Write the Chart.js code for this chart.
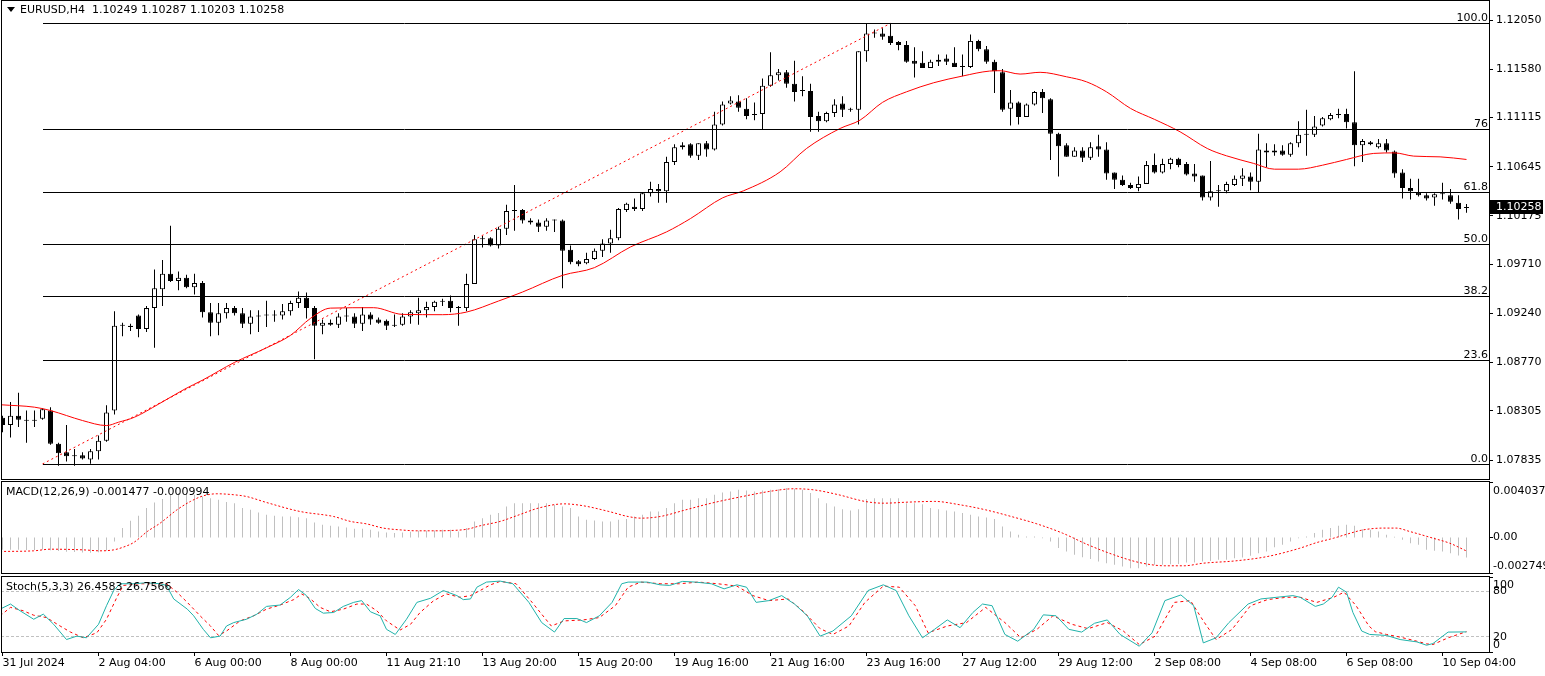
<!DOCTYPE html>
<html><head><meta charset="utf-8">
<script src="https://cdn.jsdelivr.net/npm/chart.js@4.4.1/dist/chart.umd.min.js"></script>
<style>
html,body{margin:0;padding:0;background:#fff;}
#wrap{position:relative;width:1545px;height:676px;overflow:hidden;background:#fff;}
canvas{position:absolute;left:0;}
</style></head><body>
<div id="wrap">
<canvas id="cMain" width="1545" height="480" style="top:0px"></canvas>
<canvas id="cMacd" width="1545" height="96" style="top:480px"></canvas>
<canvas id="cStoch" width="1545" height="100" style="top:576px"></canvas>
</div>
<script>
// ---------------- DATA ----------------
const symbol = 'EURUSD';
const timeframe = 'H4';
const open = [
1.0824,1.0817,1.0826,1.0822,1.0821,1.0823,1.0831,1.0799,1.0791,1.0787,
1.0788,1.0784,1.0792,1.0802,1.0831,1.0912,1.0912,1.0922,1.0909,1.0929,
1.0947,1.0962,1.0955,1.0958,1.0949,1.0953,1.0925,1.0915,1.0924,1.0929,
1.0924,1.0914,1.0921,1.0922,1.0923,1.0922,1.0926,1.0934,1.0939,1.0929,
1.0912,1.0915,1.0913,1.0921,1.0921,1.0914,1.0923,1.0918,1.0917,1.0912,
1.0913,1.0921,1.0924,1.0927,1.0930,1.0935,1.0936,1.0929,1.0929,1.0952,
1.0995,1.0996,1.0989,1.1005,1.1022,1.1023,1.1013,1.1011,1.1007,1.1013,
1.1013,1.0985,1.0974,1.0972,1.0976,1.0984,1.0991,1.0996,1.1023,1.1026,
1.1024,1.1039,1.1043,1.1041,1.1069,1.1083,1.1086,1.1075,1.1087,1.1081,
1.1105,1.1125,1.1127,1.1120,1.1114,1.1115,1.1142,1.1152,1.1155,1.1144,
1.1137,1.1137,1.1113,1.1108,1.1116,1.1125,1.1120,1.1119,1.1175,1.1192,
1.1192,1.1190,1.1184,1.1181,1.1166,1.1164,1.1159,1.1165,1.1168,1.1164,
1.1160,1.1160,1.1185,1.1177,1.1165,1.1155,1.1120,1.1126,1.1112,1.1124,
1.1136,1.1129,1.1096,1.1085,1.1074,1.1080,1.1073,1.1084,1.1081,1.1059,
1.1052,1.1047,1.1044,1.1048,1.1066,1.1059,1.1067,1.1072,1.1067,1.1058,
1.1056,1.1035,1.1041,1.1041,1.1047,1.1053,1.1055,1.1050,1.1080,1.1078,
1.1080,1.1076,1.1087,1.1095,1.1095,1.1104,1.1110,1.1115,1.1115,1.1107,
1.1085,1.1088,1.1083,1.1087,1.1079,1.1059,1.1044,1.1040,1.1037,1.1035,
1.1038,1.1037,1.1030,1.10249];
const high = [
1.0826,1.0839,1.0848,1.0831,1.0831,1.0833,1.0834,1.0800,1.0817,1.0794,
1.0791,1.0794,1.0807,1.0836,1.0926,1.0915,1.0914,1.0923,1.0931,1.0966,
1.0975,1.1008,1.0964,1.0961,1.0962,1.0955,1.0934,1.0934,1.0934,1.0931,
1.0929,1.0927,1.0927,1.0936,1.0927,1.0933,1.0936,1.0945,1.0944,1.0931,
1.0918,1.0918,1.0924,1.0929,1.0924,1.0930,1.0925,1.0920,1.0918,1.0923,
1.0924,1.0927,1.0939,1.0935,1.0936,1.0938,1.0941,1.0931,1.0962,1.0999,
1.0998,1.0997,1.1007,1.1028,1.1047,1.1024,1.1015,1.1014,1.1015,1.1014,
1.1014,1.0989,1.0975,1.0982,1.0986,1.0995,1.1004,1.1025,1.1030,1.1034,
1.1040,1.1050,1.1048,1.1074,1.1086,1.1088,1.1087,1.1087,1.1089,1.1117,
1.1127,1.1132,1.1133,1.1130,1.1126,1.1149,1.1174,1.1158,1.1157,1.1166,
1.1151,1.1144,1.1117,1.1117,1.1129,1.1132,1.1121,1.1175,1.1202,1.1196,
1.1197,1.1202,1.1185,1.1185,1.1179,1.1175,1.1167,1.1172,1.1172,1.1179,
1.1172,1.1191,1.1186,1.1180,1.1167,1.1158,1.1138,1.1127,1.1125,1.1137,
1.1139,1.1130,1.1097,1.1087,1.1083,1.1083,1.1088,1.1095,1.1088,1.1059,
1.1056,1.1049,1.1055,1.1070,1.1077,1.1072,1.1073,1.1073,1.1069,1.1067,
1.1056,1.1070,1.1047,1.1050,1.1056,1.1063,1.1059,1.1096,1.1087,1.1086,
1.1085,1.1088,1.1108,1.1119,1.1113,1.1112,1.1116,1.1120,1.1120,1.1156,
1.1091,1.1089,1.1091,1.1091,1.1080,1.1062,1.1053,1.1053,1.1039,1.1039,
1.1049,1.1043,1.1037,1.10287];
const low = [
1.0810,1.0805,1.0815,1.0800,1.0815,1.0822,1.0798,1.0778,1.0782,1.0778,
1.0784,1.0780,1.0784,1.0801,1.0827,1.0902,1.0907,1.0901,1.0906,1.0891,
1.0931,1.0954,1.0946,1.0948,1.0942,1.0920,1.0902,1.0903,1.0919,1.0922,
1.0910,1.0904,1.0906,1.0911,1.0916,1.0918,1.0922,1.0929,1.0919,1.0880,
1.0904,1.0912,1.0910,1.0916,1.0910,1.0907,1.0913,1.0914,1.0908,1.0911,
1.0912,1.0914,1.0913,1.0920,1.0926,1.0931,1.0925,1.0912,1.0926,1.0952,
1.0987,1.0988,1.0986,1.0999,1.1003,1.1010,1.1009,1.1002,1.1003,1.1002,
1.0948,1.0971,1.0969,1.0971,1.0975,1.0978,1.0982,1.0994,1.1021,1.1022,
1.1022,1.1036,1.1030,1.1030,1.1066,1.1081,1.1073,1.1071,1.1074,1.1080,
1.1104,1.1124,1.1117,1.1110,1.1109,1.1100,1.1141,1.1147,1.1140,1.1127,
1.1132,1.1098,1.1098,1.1107,1.1112,1.1112,1.1117,1.1105,1.1165,1.1188,
1.1186,1.1181,1.1176,1.1164,1.1150,1.1159,1.1159,1.1161,1.1162,1.1160,
1.1151,1.1159,1.1175,1.1163,1.1135,1.1117,1.1104,1.1105,1.1112,1.1123,
1.1116,1.1071,1.1055,1.1074,1.1074,1.1069,1.1071,1.1074,1.1052,1.1043,
1.1046,1.1043,1.1041,1.1048,1.1058,1.1058,1.1062,1.1064,1.1056,1.1050,
1.1032,1.1032,1.1026,1.1039,1.1046,1.1046,1.1042,1.1040,1.1064,1.1075,
1.1075,1.1074,1.1083,1.1075,1.1093,1.1103,1.1109,1.1111,1.1101,1.1065,
1.1069,1.1085,1.1082,1.1078,1.1054,1.1034,1.1033,1.1036,1.1032,1.1027,
1.1033,1.1029,1.1014,1.10203];
const close = [
1.0817,1.0826,1.0822,1.0821,1.0822,1.0832,1.0799,1.0790,1.0787,1.0787,
1.0785,1.0792,1.0802,1.0829,1.0912,1.0912,1.0911,1.0909,1.0929,1.0948,
1.0962,1.0955,1.0958,1.0949,1.0953,1.0925,1.0915,1.0924,1.0929,1.0924,
1.0914,1.0921,1.0922,1.0923,1.0922,1.0926,1.0934,1.0939,1.0929,1.0912,
1.0915,1.0913,1.0921,1.0921,1.0914,1.0923,1.0918,1.0915,1.0912,1.0912,
1.0921,1.0925,1.0927,1.0930,1.0935,1.0936,1.0929,1.0929,1.0952,1.0995,
1.0995,1.0989,1.1005,1.1022,1.1023,1.1013,1.1011,1.1007,1.1013,1.1013,
1.0984,1.0973,1.0971,1.0976,1.0984,1.0991,1.0996,1.1024,1.1029,1.1024,
1.1039,1.1043,1.1041,1.1069,1.1083,1.1085,1.1075,1.1087,1.1081,1.1105,
1.1124,1.1128,1.1121,1.1113,1.1115,1.1142,1.1152,1.1155,1.1144,1.1136,
1.1137,1.1112,1.1108,1.1116,1.1124,1.1119,1.1119,1.1175,1.1192,1.1192,
1.1189,1.1183,1.1181,1.1165,1.1163,1.1159,1.1165,1.1167,1.1165,1.1160,
1.1160,1.1185,1.1177,1.1165,1.1156,1.1119,1.1126,1.1112,1.1124,1.1136,
1.1130,1.1096,1.1084,1.1074,1.1080,1.1073,1.1083,1.1081,1.1058,1.1052,
1.1047,1.1044,1.1048,1.1066,1.1059,1.1067,1.1072,1.1066,1.1057,1.1055,
1.1035,1.1041,1.1041,1.1048,1.1053,1.1056,1.1050,1.1081,1.1078,1.1080,
1.1076,1.1087,1.1095,1.1096,1.1103,1.1111,1.1114,1.1114,1.1107,1.1085,
1.1089,1.1086,1.1087,1.1080,1.1058,1.1044,1.1041,1.1037,1.1034,1.1038,
1.1038,1.1031,1.1024,1.10258];

// moving average (red): candle position / price
const maIdx = [-0.2,4,6,8,10,13,14.5,16.5,19.5,22.8,25,29,33,36,38.5,41,46.4,50,55,58,62,65,70,74,78.5,83,86,90,92.6,97.2,100.5,104.7,107.2,110,113,116.4,120,123.4,124.7,127.2,129.7,133,135.5,138,141,144,147.2,150.6,153,156.4,159,162,165,168,171.4,174,176.4,179.7,183];
const maVal = [1.08364,1.08341,1.08309,1.08261,1.08213,1.08165,1.08197,1.08245,1.08370,1.08515,1.08600,1.08770,1.08910,1.09029,1.09192,1.09290,1.09294,1.09230,1.09227,1.09252,1.09358,1.09444,1.09604,1.09678,1.09876,1.10020,1.10148,1.10346,1.10413,1.10595,1.10819,1.11011,1.11091,1.11261,1.11362,1.11449,1.11513,1.11561,1.11564,1.11532,1.11549,1.11506,1.11458,1.11362,1.11203,1.11098,1.10979,1.10819,1.10749,1.10676,1.10621,1.10621,1.10659,1.10714,1.10772,1.10777,1.10746,1.10739,1.10714];

// Fibonacci retracement
const fibLow = 1.07797, fibHigh = 1.12018;
const fibStartIdx = 5, fibEndIdx = 111;
const fibLevels = [0, 23.6, 38.2, 50, 61.8, 76, 100];
const fibLabels = ['0.0', '23.6', '38.2', '50.0', '61.8', '76', '100.0'];

// price axis tick labels
const yTicks = [1.12050, 1.11580, 1.11115, 1.10645, 1.10175, 1.09710, 1.09240, 1.08770, 1.08305, 1.07835];

// time axis labels
const xLabelIdx = [0,12,24,36,48,60,72,84,96,108,120,132,144,156,168,180];
const xLabels = ['31 Jul 2024','2 Aug 04:00','6 Aug 00:00','8 Aug 00:00','11 Aug 21:10','13 Aug 20:00','15 Aug 20:00','19 Aug 16:00','21 Aug 16:00','23 Aug 16:00','27 Aug 12:00','29 Aug 12:00','2 Sep 08:00','4 Sep 08:00','6 Sep 08:00','10 Sep 04:00'];

// MACD(12,26,9) main (histogram), one per candle
const macdMain = [
-0.00090,-0.00090,-0.00091,-0.00092,-0.00092,-0.00088,-0.00094,-0.00100,-0.00105,-0.00107,
-0.00110,-0.00113,-0.00108,-0.00095,-0.00030,0.00069,0.00123,0.00159,0.00216,0.00257,
0.00282,0.00314,0.00326,0.00326,0.00314,0.00301,0.00289,0.00277,0.00260,0.00252,
0.00216,0.00203,0.00184,0.00167,0.00159,0.00154,0.00154,0.00149,0.00142,0.00110,
0.00093,0.00086,0.00081,0.00074,0.00064,0.00064,0.00056,0.00044,0.00037,0.00032,
0.00037,0.00042,0.00049,0.00049,0.00051,0.00056,0.00056,0.00044,0.00069,0.00118,
0.00142,0.00167,0.00179,0.00228,0.00252,0.00252,0.00252,0.00252,0.00252,0.00240,
0.00228,0.00216,0.00154,0.00130,0.00125,0.00118,0.00118,0.00130,0.00135,0.00154,
0.00167,0.00191,0.00191,0.00216,0.00252,0.00277,0.00277,0.00289,0.00289,0.00314,
0.00331,0.00338,0.00350,0.00345,0.00338,0.00345,0.00350,0.00355,0.00363,0.00358,
0.00350,0.00326,0.00289,0.00252,0.00228,0.00208,0.00198,0.00208,0.00282,0.00289,
0.00289,0.00289,0.00289,0.00252,0.00252,0.00245,0.00216,0.00208,0.00198,0.00191,
0.00179,0.00167,0.00154,0.00147,0.00135,0.00081,0.00044,0.00020,0.00007,0.00007,
-0.00005,-0.00029,-0.00078,-0.00103,-0.00127,-0.00145,-0.00159,-0.00176,-0.00189,-0.00201,
-0.00213,-0.00226,-0.00226,-0.00213,-0.00201,-0.00201,-0.00196,-0.00194,-0.00184,-0.00184,
-0.00176,-0.00172,-0.00164,-0.00164,-0.00152,-0.00147,-0.00135,-0.00115,-0.00103,-0.00071,
-0.00054,-0.00029,-0.00005,0.00007,0.00032,0.00056,0.00069,0.00086,0.00093,0.00086,
0.00061,0.00056,0.00044,0.00020,0.00005,-0.00017,-0.00042,-0.00054,-0.00091,-0.00098,
-0.00103,-0.00115,-0.00132,-0.001477];
// MACD signal
const macdSigIdx = [-0.3,3.9,6.0,10.1,12.2,13.9,15.1,16.4,18.1,19.7,21.8,23.5,25.1,26.8,28.9,30.5,33.0,37.2,41.4,43.5,45.5,47.6,49.7,51.8,53.9,56.0,58.1,59.7,62.2,64.6,67.0,70.2,72.6,75.8,78.2,79.8,82.2,85.4,88.6,92.5,96.6,98.9,101.4,104.5,107.8,110.1,113.3,116.5,119.7,122.9,126.1,129.3,132.5,135.7,138.9,142.1,145.3,147.7,150.1,154.1,158.1,162.1,164.3,166.4,168.5,170.1,172.6,174.2,175.9,178.8,180.9,183];
const macdSigVal = [-0.00103,-0.00098,-0.00086,-0.00091,-0.00098,-0.00091,-0.00071,-0.00037,0.00044,0.00105,0.00203,0.00265,0.00306,0.00321,0.00314,0.00301,0.00257,0.00191,0.00154,0.00118,0.00100,0.00069,0.00056,0.00049,0.00049,0.00051,0.00061,0.00086,0.00118,0.00167,0.00216,0.00247,0.00233,0.00191,0.00154,0.00142,0.00154,0.00203,0.00252,0.00301,0.00345,0.00358,0.00350,0.00314,0.00265,0.00252,0.00260,0.00265,0.00240,0.00203,0.00154,0.00100,0.00032,-0.00054,-0.00127,-0.00184,-0.00208,-0.00208,-0.00189,-0.00172,-0.00140,-0.00080,-0.00037,-0.00005,0.00032,0.00056,0.00069,0.00069,0.00044,-0.00005,-0.00042,-0.000994];
const macdScaleVals = ['max', 0, 'min'];
const macdScaleLabels = ['0.004037', '0.00', '-0.002749'];

// Stochastic(5,3,3)
const stochKIdx = [-0.3,1.0,2.2,3.9,5.1,6.4,8.0,9.3,10.5,12.0,13.0,13.9,14.7,16.4,18.0,19.7,20.5,21.4,23.1,23.9,25.1,26.0,27.2,28.0,28.9,30.5,31.8,33.0,34.7,36.0,37.0,38.0,39.1,40.1,41.4,42.6,43.9,44.9,46.0,47.2,48.0,49.1,50.5,51.8,53.5,55.1,56.8,57.6,58.5,59.3,60.5,62.2,
63.8,65.8,67.4,69.0,70.2,71.8,73.0,74.6,76.2,77.4,78.2,80.6,82.2,83.4,85.0,86.6,88.6,90.2,91.8,93.0,94.2,95.8,97.4,99.0,100.6,102.2,103.8,106.1,108.2,110.1,111.7,113.3,115.0,116.5,118.1,119.7,121.3,122.5,123.7,125.3,126.9,128.9,130.1,131.7,133.3,134.9,136.5,138.1,139.7,142.1,143.7,145.3,147.3,148.9,150.1,151.7,153.3,155.7,157.3,159.3,161.3,
162.2,164.1,165.1,166.2,167.0,168.0,168.8,169.9,170.9,173.0,174.7,176.8,178.0,178.8,180.7,183];
const stochKVal = [56.4,63.1,54.2,43.1,49.8,36.4,16.4,20.9,18.7,36.4,60.9,80.9,89.8,89.8,91.1,89.8,87.6,69.8,56.4,47.6,29.8,18.7,20.9,34.2,38.7,43.1,49.8,60.0,61.8,72.0,82.2,74.2,57.3,51.1,52.0,60.0,65.3,67.6,52.9,47.6,29.8,23.1,43.1,65.3,70.7,80.9,74.2,68.9,69.8,85.3,92.0,93.3,
89.8,65.3,38.7,26.2,44.0,44.0,38.7,47.6,65.3,89.8,92.0,92.0,88.4,87.6,92.9,92.0,89.8,83.1,88.4,85.3,65.3,67.6,74.2,63.1,47.6,20.9,27.6,47.6,80.9,88.4,80.9,47.6,18.7,29.8,42.2,32.0,52.0,63.1,60.9,23.1,14.2,29.8,48.9,47.6,29.8,26.2,37.8,42.2,23.1,7.6,25.3,67.6,75.1,60.9,12.0,18.7,38.7,63.1,69.8,72.0,74.2,
72.0,60.0,63.1,72.0,85.3,78.7,52.0,27.6,23.1,21.8,16.4,13.3,8.9,11.1,26.2,26.4583];
const stochDIdx = [-0.3,1.0,2.6,3.9,5.5,7.2,8.5,10.1,11.8,13.0,14.3,15.1,17.2,19.3,20.5,21.8,23.1,24.7,26.0,27.0,28.0,29.7,31.4,33.0,34.7,36.4,37.4,38.5,39.7,41.0,42.6,44.3,45.5,46.8,48.0,49.7,51.0,52.2,53.9,55.5,57.2,58.5,59.7,61.0,62.2,
64.2,66.2,68.6,70.2,72.6,74.6,76.6,78.2,79.8,82.2,84.6,87.0,89.4,91.8,93.8,95.8,98.2,99.8,102.2,103.8,105.8,107.8,110.1,112.1,114.1,115.7,118.1,120.5,122.9,125.3,127.3,129.3,131.3,133.7,135.7,138.1,140.1,142.1,144.1,146.5,148.5,150.1,151.7,153.7,156.0,158.1,160.5,
162.2,164.3,166.4,167.7,169.2,170.8,171.6,173.0,174.7,176.8,178.0,178.8,180.7,183];
const stochDVal = [47.6,58.7,54.2,48.4,45.3,34.2,26.2,18.7,25.3,43.1,72.0,87.6,89.8,89.8,89.8,78.7,65.3,47.6,34.2,21.8,27.6,40.9,47.6,56.4,61.8,68.9,76.4,69.8,58.7,52.9,56.4,63.1,63.1,54.2,40.9,28.9,36.4,52.0,67.6,76.4,72.0,74.2,80.9,88.4,92.9,
89.8,65.3,34.2,40.9,42.2,45.3,60.9,85.3,92.0,89.8,89.8,92.0,89.8,86.7,74.2,67.6,69.8,56.4,30.7,23.1,34.2,65.3,86.7,85.3,60.9,25.3,34.2,38.7,58.7,38.7,18.7,29.8,47.6,36.4,30.7,38.7,27.6,9.8,20.9,65.3,67.6,40.9,16.4,29.8,60.9,68.9,72.0,
72.0,65.3,72.0,78.7,60.9,34.2,26.7,23.1,19.6,14.2,10.7,9.8,18.7,26.7566];
const stochLevels = [20, 80];
const stochScaleVals = [100, 80, 20, 0];
const stochScaleLabels = ['100', '80', '20', '0'];

// ---------------- STYLE / LAYOUT ----------------
const FAM = 'DejaVu Sans';
const FONT = '11px "DejaVu Sans"';
Chart.defaults.font.family = FAM;
Chart.defaults.font.size = 11;
const xMin = -0.1875, xMax = 185.8125;           // 8 px per candle
const mainYMin = 1.07653, mainYMax = 1.122416;
const macdYMin = -0.00261, macdYMax = 0.00415;
const last = close.length - 1;
const AXIS_W = 56;

function xScale(display) {
  return {type: 'linear', min: xMin, max: xMax, offset: false, display: display,
          grid: {offset: false}};
}
function frame(ctx, ca) {
  ctx.strokeStyle = '#000'; ctx.lineWidth = 1;
  ctx.strokeRect(ca.left + 0.5, ca.top + 0.5, ca.right - ca.left, ca.bottom - ca.top);
}
function text(ctx, s, x, y, align) {
  ctx.font = FONT; ctx.fillStyle = '#000';
  ctx.textAlign = align || 'left'; ctx.textBaseline = 'middle';
  ctx.fillText(s, x, y);
}

// ---------------- MAIN CHART ----------------
const bodyData = open.map((o, i) => ({x: i, y: [o, close[i]]}));
const wickData = open.map((o, i) => ({x: i, y: [low[i], high[i]]}));
const bodyFill = open.map((o, i) => close[i] >= o ? '#ffffff' : '#000000');

const mainPlugin = {
  id: 'mainDeco',
  afterDatasetsDraw(chart) {
    const {ctx, chartArea: ca, scales: {x, y}} = chart;
    ctx.save();
    const x0 = Math.round(x.getPixelForValue(fibStartIdx));
    fibLevels.forEach((lv, k) => {
      const price = fibLow + (fibHigh - fibLow) * lv / 100;
      const py = Math.round(y.getPixelForValue(price)) + 0.5;
      ctx.strokeStyle = '#000'; ctx.lineWidth = 1;
      ctx.beginPath(); ctx.moveTo(x0, py); ctx.lineTo(ca.right, py); ctx.stroke();
      ctx.font = FONT; ctx.fillStyle = '#000'; ctx.textAlign = 'right'; ctx.textBaseline = 'alphabetic';
      ctx.fillText(fibLabels[k], ca.right - 1, py - 2.5);
    });
    ctx.restore();
  },
  afterDraw(chart) {
    const {ctx, chartArea: ca, scales: {y}} = chart;
    ctx.save();
    frame(ctx, ca);
    // header
    ctx.fillStyle = '#000';
    ctx.beginPath(); ctx.moveTo(7, 7); ctx.lineTo(15, 7); ctx.lineTo(11, 12); ctx.closePath(); ctx.fill();
    text(ctx, symbol + ',' + timeframe + '  ' + [open[last], high[last], low[last], close[last]].map(v => v.toFixed(5)).join(' '), 20, 10);
    // current price box
    const cy = Math.round(y.getPixelForValue(close[last]));
    ctx.fillStyle = '#000';
    ctx.fillRect(ca.right + 1, cy - 7, 53, 14);
    ctx.font = FONT; ctx.fillStyle = '#fff'; ctx.textAlign = 'left'; ctx.textBaseline = 'middle';
    ctx.fillText(close[last].toFixed(5), ca.right + 7, cy + 0.5);
    ctx.restore();
  }
};

new Chart(document.getElementById('cMain'), {
  type: 'bar',
  data: {datasets: [
    {type: 'line', data: maIdx.map((v, k) => ({x: v, y: maVal[k]})), borderColor: '#ff0000', borderWidth: 1,
     pointRadius: 0, cubicInterpolationMode: 'monotone', order: 0},
    {type: 'line', data: [{x: fibStartIdx, y: fibLow}, {x: fibEndIdx, y: fibHigh}], borderColor: '#ff0000',
     borderWidth: 1, borderDash: [2, 3], pointRadius: 0, order: 0},
    {type: 'bar', data: wickData, backgroundColor: '#000', borderWidth: 0, barThickness: 1, grouped: false,
     inflateAmount: 0, order: 2},
    {type: 'bar', data: bodyData, backgroundColor: bodyFill, borderColor: '#000', borderWidth: 1,
     borderSkipped: false, barThickness: 5, grouped: false, minBarLength: 1, inflateAmount: 0, order: 1}
  ]},
  options: {
    responsive: false, animation: false, events: [],
    layout: {padding: {left: 1, top: 0, right: 0, bottom: 1}},
    plugins: {legend: {display: false}, tooltip: {enabled: false}},
    scales: {
      x: xScale(false),
      y: {type: 'linear', position: 'right', min: mainYMin, max: mainYMax,
          afterBuildTicks: s => { s.ticks = yTicks.map(v => ({value: v})); },
          afterFit: s => { s.width = AXIS_W; s.paddingTop = 0; s.paddingBottom = 0; },
          grid: {drawOnChartArea: false, drawTicks: true, tickLength: 4, color: '#000'},
          border: {display: true, color: '#000'},
          ticks: {font: {family: FAM, size: 11}, color: '#000', padding: 3, autoSkip: false,
                  callback: v => Number(v).toFixed(5)}}
    }
  },
  plugins: [mainPlugin]
});

// ---------------- MACD ----------------
const macdPlugin = {
  id: 'macdDeco',
  afterDraw(chart) {
    const {ctx, chartArea: ca, scales: {y}} = chart;
    ctx.save();
    frame(ctx, ca);
    text(ctx, 'MACD(12,26,9) ' + macdMain[last].toFixed(6) + ' ' + macdSigVal[macdSigVal.length - 1].toFixed(6), 6, ca.top + 11.5);
    macdScaleVals.forEach((v, k) => {
      let py, ty;
      if (v === 'max') { py = ca.top + 1; ty = ca.top + 10; }
      else if (v === 'min') { py = ca.bottom; ty = ca.bottom - 6.5; }
      else { py = Math.round(y.getPixelForValue(v)); ty = py + 0.5; }
      ctx.fillStyle = '#000'; ctx.fillRect(ca.right + 1, py, 3, 1);
      text(ctx, macdScaleLabels[k], ca.right + 4, ty);
    });
    ctx.restore();
  }
};
new Chart(document.getElementById('cMacd'), {
  type: 'bar',
  data: {datasets: [
    {type: 'bar', data: macdMain.map((v, i) => ({x: i, y: v})), backgroundColor: '#c0c0c0', borderWidth: 0,
     barThickness: 1, grouped: false, inflateAmount: 0, order: 2},
    {type: 'line', data: macdSigIdx.map((v, k) => ({x: v, y: macdSigVal[k]})), borderColor: '#ff0000',
     borderWidth: 1, borderDash: [2, 2], pointRadius: 0, cubicInterpolationMode: 'monotone', order: 1}
  ]},
  options: {
    responsive: false, animation: false, events: [],
    layout: {padding: {left: 1, top: 1, right: 0, bottom: 3}},
    plugins: {legend: {display: false}, tooltip: {enabled: false}},
    scales: {
      x: xScale(false),
      y: {type: 'linear', position: 'right', min: macdYMin, max: macdYMax,
          afterFit: s => { s.width = AXIS_W; s.paddingTop = 0; s.paddingBottom = 0; },
          grid: {display: false}, border: {display: false}, ticks: {display: false}}
    }
  },
  plugins: [macdPlugin]
});

// ---------------- STOCHASTIC ----------------
const stochPlugin = {
  id: 'stochDeco',
  afterDraw(chart) {
    const {ctx, chartArea: ca, scales: {y}} = chart;
    ctx.save();
    frame(ctx, ca);
    text(ctx, 'Stoch(5,3,3) ' + stochKVal[stochKVal.length - 1].toFixed(4) + ' ' + stochDVal[stochDVal.length - 1].toFixed(4), 6, ca.top + 11.5);
    stochScaleVals.forEach((v, k) => {
      let ty = y.getPixelForValue(v);
      if (v === 100) ty = ca.top + 9;
      if (v === 0) ty = ca.bottom - 7;
      if (v === 100 || v === 0) { ctx.fillStyle = '#000'; ctx.fillRect(ca.right + 1, v === 100 ? ca.top + 1 : ca.bottom, 3, 1); }
      text(ctx, stochScaleLabels[k], ca.right + 4, ty);
    });
    ctx.restore();
  }
};
new Chart(document.getElementById('cStoch'), {
  type: 'line',
  data: {datasets: [
    {data: stochKIdx.map((v, k) => ({x: v, y: stochKVal[k]})), borderColor: '#20b2aa', borderWidth: 1, pointRadius: 0, order: 1},
    {data: stochDIdx.map((v, k) => ({x: v, y: stochDVal[k]})), borderColor: '#ff0000', borderWidth: 1, borderDash: [3, 3], pointRadius: 0, order: 2}
  ]},
  options: {
    responsive: false, animation: false, events: [],
    layout: {padding: {left: 1, top: 0, right: 0, bottom: 0}},
    plugins: {legend: {display: false}, tooltip: {enabled: false}},
    scales: {
      x: {type: 'linear', min: xMin, max: xMax, offset: false, position: 'bottom',
          afterBuildTicks: s => { s.ticks = xLabelIdx.map(v => ({value: v})); },
          afterFit: s => { s.height = 24; s.paddingLeft = 0; s.paddingRight = 0; },
          grid: {offset: false, drawOnChartArea: false, drawTicks: true, tickLength: 4, color: '#000'},
          border: {display: false},
          ticks: {align: 'start', autoSkip: false, maxRotation: 0, minRotation: 0, padding: 1,
                  font: {family: FAM, size: 11}, color: '#000',
                  callback: v => xLabels[xLabelIdx.indexOf(v)]}},
      y: {type: 'linear', position: 'right', min: 0, max: 100,
          afterBuildTicks: s => { s.ticks = stochLevels.map(v => ({value: v})); },
          afterFit: s => { s.width = AXIS_W; s.paddingTop = 0; s.paddingBottom = 0; },
          grid: {drawOnChartArea: true, drawTicks: false, color: '#c0c0c0', lineWidth: 1},
          border: {display: false, dash: [3, 2]},
          ticks: {display: false}}
    }
  },
  plugins: [stochPlugin]
});
</script>
</body></html>
